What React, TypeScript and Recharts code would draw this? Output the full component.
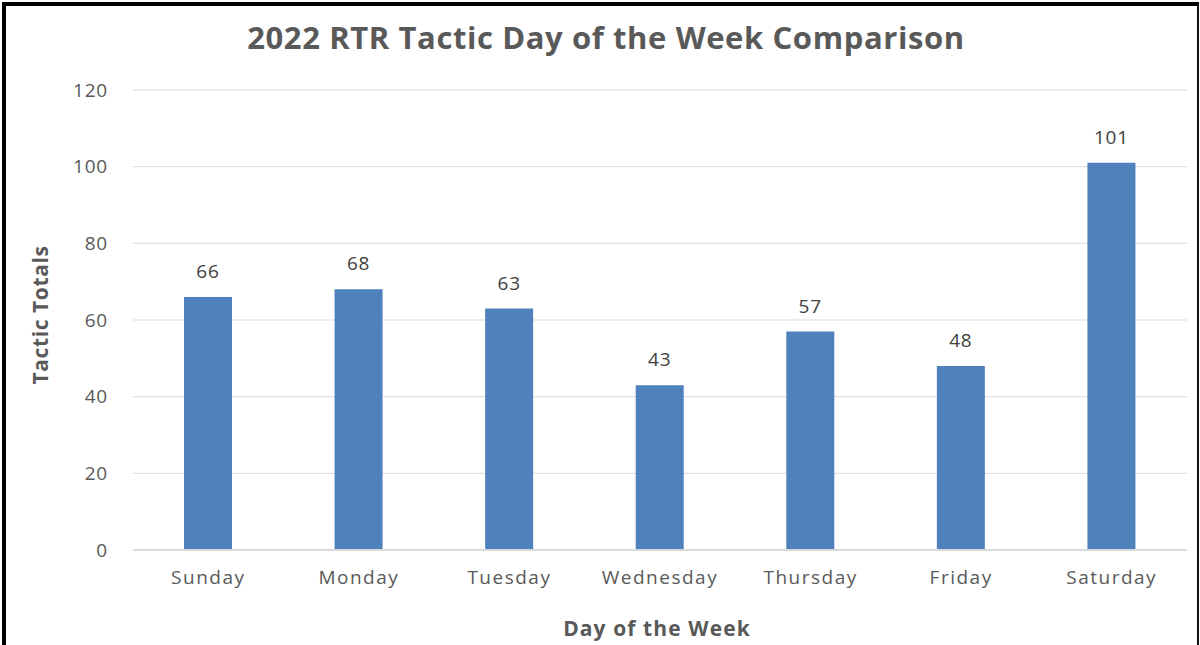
import { BarChart, Bar, XAxis, YAxis, CartesianGrid, LabelList } from 'recharts';

const days = ['Sunday', 'Monday', 'Tuesday', 'Wednesday', 'Thursday', 'Friday', 'Saturday'];
const totals = [66, 68, 63, 43, 57, 48, 101];
const yTicks = [0, 20, 40, 60, 80, 100, 120];

const data = days.map((day, i) => ({ day, total: totals[i] }));

const FONT = '"Open Sans", sans-serif';
const GREY = '#595959';

export default function App() {
    return (
        <div style={{ position: 'absolute', left: 0, top: 0, width: 1200, height: 645, background: '#fff', overflow: 'hidden', fontFamily: FONT }}>
            <div style={{ position: 'absolute', left: 2, top: 2, width: 1191, height: 660, borderLeft: '4px solid #000', borderTop: '4px solid #000', borderRight: '2px solid #111' }} />
            <div style={{ position: 'absolute', left: 0, top: 16, width: 1212, textAlign: 'center', fontSize: 31, fontWeight: 'bold', color: GREY, letterSpacing: 0.6 }}>
                2022 RTR Tactic Day of the Week Comparison
            </div>
            <div style={{ position: 'absolute', left: 40, top: 315, transform: 'translate(-50%, -50%) rotate(-90deg)', whiteSpace: 'nowrap', fontSize: 21, fontWeight: 'bold', color: GREY, letterSpacing: 0.6 }}>
                Tactic Totals
            </div>
            <div style={{ position: 'absolute', left: 0, top: 614, width: 1314, textAlign: 'center', fontSize: 21, fontWeight: 'bold', color: GREY, letterSpacing: 1.1 }}>
                Day of the Week
            </div>
            <BarChart width={1200} height={645} data={data} margin={{ top: 90, right: 13, bottom: 65, left: 0 }}>
                <CartesianGrid horizontal vertical={false} stroke="#d9d9d9" />
                <XAxis
                    dataKey="day"
                    axisLine={{ stroke: '#d9d9d9', strokeWidth: 2 }}
                    tickLine={false}
                    tickMargin={15}
                    tick={{ fill: GREY, fontSize: 19, fontFamily: FONT, letterSpacing: 1.5 }}
                />
                <YAxis
                    width={133}
                    domain={[0, 120]}
                    ticks={yTicks}
                    axisLine={false}
                    tickLine={false}
                    tickMargin={19}
                    tick={{ fill: GREY, fontSize: 19, fontFamily: FONT, letterSpacing: 0.8 }}
                />
                <Bar dataKey="total" fill="#4f81bd" barSize={48} isAnimationActive={false}>
                    <LabelList dataKey="total" position="top" offset={19} fill="#404040" fontSize={19} fontFamily={FONT} letterSpacing={0.8} />
                </Bar>
            </BarChart>
        </div>
    );
}
